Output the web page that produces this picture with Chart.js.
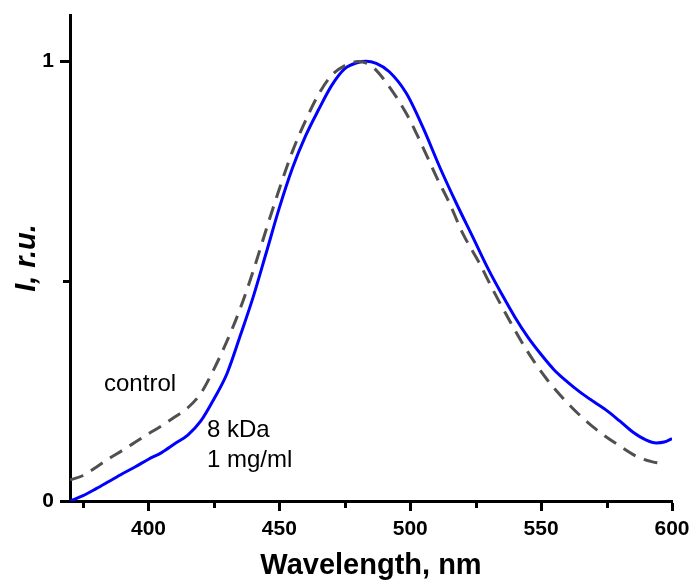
<!DOCTYPE html>
<html>
<head>
<meta charset="utf-8">
<script src="https://cdn.jsdelivr.net/npm/chart.js@4"></script>
<style>
  html, body { margin: 0; padding: 0; background: #fff; }
  #wrap { width: 691px; height: 583px; }
</style>
</head>
<body>
<div id="wrap"><canvas id="spectrum"></canvas></div>
<script>
// 8 kDa, 1 mg/ml (blue solid)
const sampleWl = [370, 375, 380, 385, 390, 395, 400, 405, 410, 415, 420, 425, 430, 435, 440, 445, 450, 455, 460, 465, 470, 475, 480, 483, 487, 492, 498.5, 504.8, 511.2, 517.6, 523.9, 530, 535, 540, 545, 550, 555, 560, 565, 570, 575, 580, 585, 590, 594, 597, 600];
const sampleI = [0, 0.012, 0.028, 0.045, 0.062, 0.078, 0.095, 0.11, 0.13, 0.15, 0.182, 0.232, 0.29, 0.375, 0.464, 0.565, 0.667, 0.757, 0.83, 0.89, 0.945, 0.983, 0.997, 1.0, 0.995, 0.976, 0.927, 0.85, 0.76, 0.677, 0.6, 0.525, 0.47, 0.418, 0.372, 0.333, 0.298, 0.271, 0.247, 0.226, 0.206, 0.182, 0.157, 0.139, 0.132, 0.134, 0.142];

// control (grey dashed)
const controlWl = [370, 375, 380, 385, 390, 395, 400, 405, 410, 415, 420, 425, 430, 435, 440, 445, 450, 455, 460, 465, 470, 475, 480, 485, 490, 498.5, 503.6, 510, 515, 520.1, 526.5, 531.6, 538.5, 544.9, 551.9, 560.2, 569.7, 580.6, 587, 592.6, 595.2];
const controlI = [0.048, 0.058, 0.077, 0.097, 0.115, 0.134, 0.153, 0.171, 0.191, 0.212, 0.245, 0.3, 0.364, 0.437, 0.523, 0.618, 0.71, 0.795, 0.865, 0.925, 0.968, 0.99, 0.999, 0.99, 0.958, 0.881, 0.82, 0.737, 0.677, 0.608, 0.54, 0.48, 0.404, 0.339, 0.279, 0.222, 0.169, 0.123, 0.1, 0.089, 0.086];

const xMajor = [400, 450, 500, 550, 600];
const xMinor = [375, 425, 475, 525, 575];
const yMajor = [0, 1];
const yMinor = [0.5];

const notes = [
  { text: "control", x: 383, y: 0.266 },
  { text: "8 kDa", x: 422.3, y: 0.161 },
  { text: "1 mg/ml", x: 422.3, y: 0.093 }
];

const FONT = "'Liberation Sans', Arial, sans-serif";

function pairs(xs, ys) {
  return xs.map((x, i) => ({ x: x, y: ys[i] }));
}

// short minor ticks + text labels
const extras = {
  id: "extras",
  afterDraw(chart) {
    const ctx = chart.ctx;
    const xs = chart.scales.x, ys = chart.scales.y;
    const area = chart.chartArea;
    ctx.save();
    ctx.strokeStyle = "#000";
    ctx.lineWidth = 3;
    xMinor.forEach(v => {
      const px = Math.round(xs.getPixelForValue(v)) + 0.5;
      ctx.beginPath();
      ctx.moveTo(px, area.bottom);
      ctx.lineTo(px, area.bottom + 7);
      ctx.stroke();
    });
    yMinor.forEach(v => {
      const py = Math.round(ys.getPixelForValue(v)) + 0.5;
      ctx.beginPath();
      ctx.moveTo(area.left, py);
      ctx.lineTo(area.left - 7, py);
      ctx.stroke();
    });
    ctx.fillStyle = "#000";
    ctx.font = "24px " + FONT;
    ctx.textAlign = "left";
    ctx.textBaseline = "middle";
    notes.forEach(n => {
      ctx.fillText(n.text, xs.getPixelForValue(n.x), ys.getPixelForValue(n.y));
    });
    ctx.restore();
  }
};

new Chart(document.getElementById("spectrum"), {
  type: "line",
  data: {
    datasets: [
      {
        label: "control",
        data: pairs(controlWl, controlI),
        borderColor: "#505050",
        borderWidth: 3,
        borderDash: [14, 9],
        pointRadius: 0,
        cubicInterpolationMode: "monotone",
        fill: false
      },
      {
        label: "8 kDa 1 mg/ml",
        data: pairs(sampleWl, sampleI),
        borderColor: "#0000ff",
        borderWidth: 3,
        pointRadius: 0,
        cubicInterpolationMode: "monotone",
        fill: false
      }
    ]
  },
  options: {
    responsive: true,
    maintainAspectRatio: false,
    animation: false,
    layout: { padding: { top: 15, right: 19, left: 0, bottom: 0 } },
    plugins: { legend: { display: false }, tooltip: { enabled: false } },
    scales: {
      x: {
        type: "linear",
        min: 370,
        max: 600,
        afterBuildTicks: s => { s.ticks = xMajor.map(v => ({ value: v })); },
        afterFit: s => { s.height = 82; s.paddingLeft = 0; s.paddingRight = 0; },
        ticks: {
          color: "#000",
          font: { family: FONT, size: 21, weight: "bold" },
          padding: 6,
          maxRotation: 0
        },
        grid: { drawOnChartArea: false, tickLength: 10, tickWidth: 3, tickColor: "#000" },
        border: { display: true, color: "#000", width: 3 },
        title: {
          display: true,
          text: "Wavelength, nm",
          color: "#000",
          font: { family: FONT, size: 29, weight: "bold" },
          padding: { top: 0, bottom: 0 }
        }
      },
      y: {
        min: 0,
        max: 1.105,
        afterBuildTicks: s => { s.ticks = yMajor.map(v => ({ value: v })); },
        afterFit: s => { s.width = 70; s.paddingTop = 0; s.paddingBottom = 0; },
        ticks: {
          color: "#000",
          font: { family: FONT, size: 21, weight: "bold" },
          padding: 6
        },
        grid: { drawOnChartArea: false, tickLength: 10, tickWidth: 3, tickColor: "#000" },
        border: { display: true, color: "#000", width: 3 },
        title: {
          display: true,
          text: "I, r.u.",
          color: "#000",
          font: { family: FONT, size: 29, weight: "bold", style: "italic" },
          padding: { top: 10, bottom: 0 }
        }
      }
    }
  },
  plugins: [extras]
});
</script>
</body>
</html>
